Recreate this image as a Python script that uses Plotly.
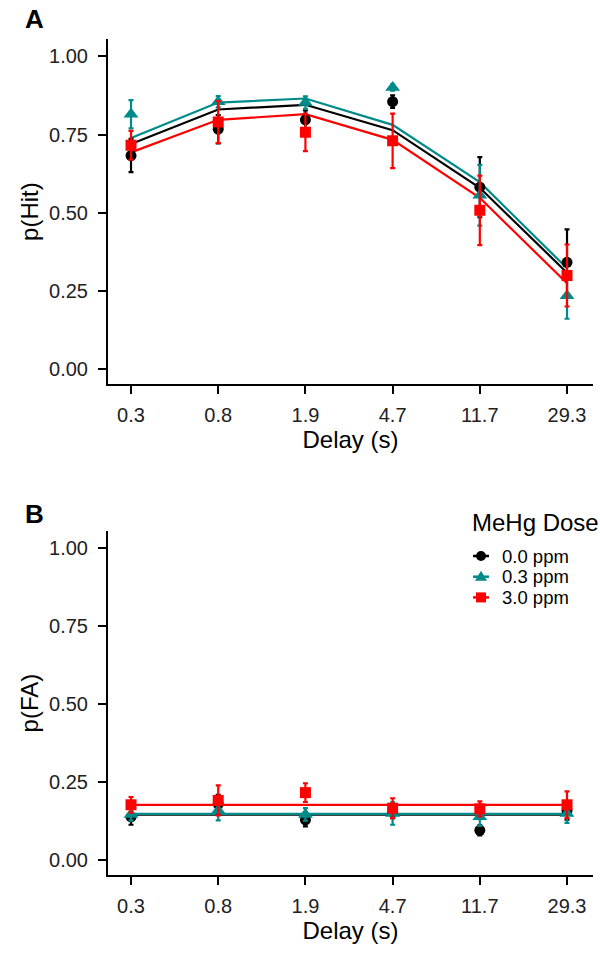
import plotly.graph_objects as go

delays = ["0.3", "0.8", "1.9", "4.7", "11.7", "29.3"]
doses = ["0.0 ppm", "0.3 ppm", "3.0 ppm"]
colors = ["#000000", "#008B8B", "#FF0000"]
symbols = ["circle", "triangle-up", "square"]
msizes = [11, 13, 11]

# Panel A: p(Hit)
hit_obs = {
    "0.0 ppm": [0.683, 0.767, 0.797, 0.855, 0.582, 0.342],
    "0.3 ppm": [0.815, 0.855, 0.852, 0.900, 0.556, 0.235],
    "3.0 ppm": [0.716, 0.790, 0.757, 0.730, 0.508, 0.300],
}
hit_se = {
    "0.0 ppm": [0.053, 0.045, 0.030, 0.020, 0.096, 0.105],
    "0.3 ppm": [0.045, 0.018, 0.020, 0.010, 0.097, 0.073],
    "3.0 ppm": [0.046, 0.067, 0.060, 0.087, 0.111, 0.099],
}
hit_fit = {
    "0.0 ppm": [0.720, 0.830, 0.845, 0.764, 0.580, 0.309],
    "0.3 ppm": [0.739, 0.852, 0.865, 0.781, 0.598, 0.323],
    "3.0 ppm": [0.693, 0.797, 0.815, 0.733, 0.548, 0.275],
}

# Panel B: p(FA)
fa_obs = {
    "0.0 ppm": [0.139, 0.180, 0.130, 0.155, 0.096, 0.160],
    "0.3 ppm": [0.147, 0.160, 0.147, 0.150, 0.140, 0.150],
    "3.0 ppm": [0.178, 0.192, 0.217, 0.167, 0.165, 0.178],
}
fa_se = {
    "0.0 ppm": [0.025, 0.030, 0.021, 0.020, 0.016, 0.030],
    "0.3 ppm": [0.020, 0.032, 0.020, 0.036, 0.030, 0.030],
    "3.0 ppm": [0.025, 0.048, 0.030, 0.032, 0.024, 0.043],
}
fa_fit = {
    "0.0 ppm": [0.146] * 6,
    "0.3 ppm": [0.149] * 6,
    "3.0 ppm": [0.178] * 6,
}

yticks = [0, 0.25, 0.5, 0.75, 1.0]
xidx = list(range(len(delays)))

W, H = 600, 953
ML, MR, MT, MB = 108, 7, 39, 78
PW, PH = W - ML - MR, H - MT - MB

def fx(X):
    return (X - ML) / PW

def fy(Y):
    return (H - MB - Y) / PH

FONT = "Liberation Sans, Arial, sans-serif"

fig = go.Figure()

for (obs, se, fit, xa, ya) in [
    (hit_obs, hit_se, hit_fit, "x", "y"),
    (fa_obs, fa_se, fa_fit, "x2", "y2"),
]:
    for d, c in zip(doses, colors):
        fig.add_trace(go.Scatter(
            x=xidx, y=fit[d], mode="lines", line=dict(color=c, width=2.2),
            xaxis=xa, yaxis=ya, showlegend=False, hoverinfo="skip", name=d))
    for d, c, s, ms in zip(doses, colors, symbols, msizes):
        fig.add_trace(go.Scatter(
            x=xidx, y=obs[d], mode="markers", name=d,
            marker=dict(color=c, symbol=s, size=ms, line=dict(width=0)),
            error_y=dict(type="data", array=se[d], color=c, thickness=2.2, width=2.5),
            xaxis=xa, yaxis=ya, showlegend=False))

tickfont = dict(family=FONT, size=20, color="#222222")
titlefont = dict(family=FONT, size=24, color="#000000")

axis_common = dict(
    showline=True, linecolor="black", linewidth=2,
    ticks="outside", ticklen=8, tickwidth=2, tickcolor="black",
    showgrid=False, zeroline=False, tickfont=tickfont,
)
yr = [-0.047, 1.055]
xr = [-0.264, 5.298]

fig.update_layout(
    width=W, height=H,
    margin=dict(l=ML, r=MR, t=MT, b=MB),
    plot_bgcolor="white", paper_bgcolor="white",
    showlegend=False,
    xaxis=dict(axis_common, domain=[0, 1], anchor="y", range=xr,
               tickvals=xidx, ticktext=delays, ticklabelstandoff=4,
               title=dict(text="Delay (s)", font=titlefont, standoff=4)),
    yaxis=dict(axis_common, domain=[fy(384.2), 1.0], anchor="x", range=yr,
               tickvals=yticks, tickformat=".2f", ticklabelstandoff=6,
               title=dict(text="p(Hit)", font=titlefont, standoff=4)),
    xaxis2=dict(axis_common, domain=[0, 1], anchor="y2", range=xr,
                tickvals=xidx, ticktext=delays, ticklabelstandoff=4,
                title=dict(text="Delay (s)", font=titlefont, standoff=4)),
    yaxis2=dict(axis_common, domain=[0, fy(531.1)], anchor="x2", range=yr,
                tickvals=yticks, tickformat=".2f", ticklabelstandoff=6,
                title=dict(text="p(FA)", font=titlefont, standoff=4)),
)

annotations = [
    dict(text="<b>A</b>", x=fx(23), y=fy(19), xref="paper", yref="paper",
         xanchor="left", yanchor="middle", showarrow=False,
         font=dict(family=FONT, size=26, color="black")),
    dict(text="<b>B</b>", x=fx(23), y=fy(514), xref="paper", yref="paper",
         xanchor="left", yanchor="middle", showarrow=False,
         font=dict(family=FONT, size=26, color="black")),
    dict(text="MeHg Dose", x=fx(470), y=fy(522), xref="paper", yref="paper",
         xanchor="left", yanchor="middle", showarrow=False,
         font=dict(family=FONT, size=24, color="black")),
]

# manual legend (keys + labels)
leg_x = 481
leg_ys = [556.0, 576.7, 597.4]
shapes = []
for d, c, s, ly in zip(doses, colors, symbols, leg_ys):
    annotations.append(dict(text=d, x=fx(500), y=fy(ly), xref="paper", yref="paper",
                            xanchor="left", yanchor="middle", showarrow=False,
                            font=dict(family=FONT, size=18.5, color="black")))
    shapes.append(dict(type="line", xref="paper", yref="paper",
                       x0=fx(leg_x - 8), x1=fx(leg_x + 8), y0=fy(ly), y1=fy(ly),
                       line=dict(color=c, width=2.5)))
    if s == "circle":
        r = 5
        shapes.append(dict(type="circle", xref="paper", yref="paper",
                           x0=fx(leg_x - r), x1=fx(leg_x + r), y0=fy(ly + r), y1=fy(ly - r),
                           fillcolor=c, line=dict(width=0)))
    elif s == "square":
        r = 5
        shapes.append(dict(type="rect", xref="paper", yref="paper",
                           x0=fx(leg_x - r), x1=fx(leg_x + r), y0=fy(ly + r), y1=fy(ly - r),
                           fillcolor=c, line=dict(width=0)))
    else:
        r = 6
        path = "M {:.5f},{:.5f} L {:.5f},{:.5f} L {:.5f},{:.5f} Z".format(
            fx(leg_x - r), fy(ly + 4), fx(leg_x + r), fy(ly + 4), fx(leg_x), fy(ly - 6))
        shapes.append(dict(type="path", xref="paper", yref="paper", path=path,
                           fillcolor=c, line=dict(width=0)))

fig.update_layout(annotations=annotations, shapes=shapes)

fig.write_html(
    "out.html",
    config={"displayModeBar": False},
    post_script="document.body.style.margin='0';document.body.style.padding='0';"
                "document.documentElement.style.overflow='hidden';",
)
